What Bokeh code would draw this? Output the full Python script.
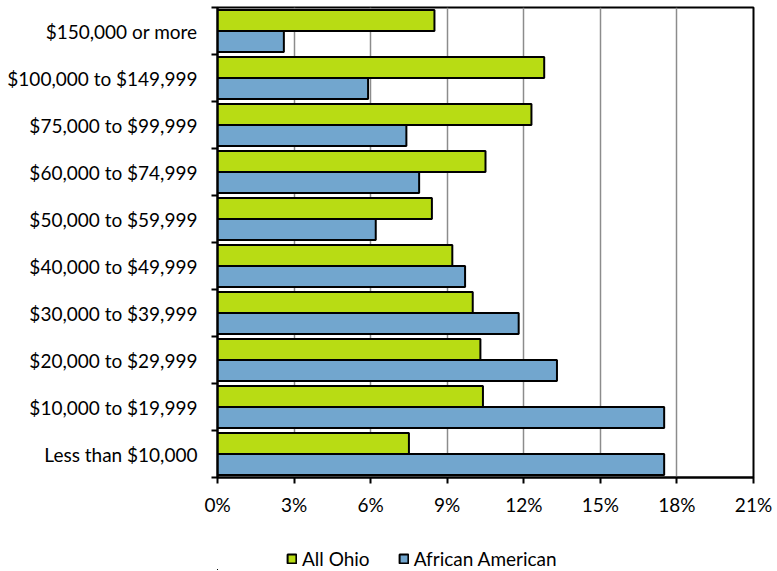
from bokeh.plotting import figure
from bokeh.layouts import column
from bokeh.models import ColumnDataSource, FixedTicker, Legend, LegendItem, Range1d
from bokeh.embed import file_html
from bokeh.resources import INLINE

categories = ["Less than $10,000", "$10,000 to $19,999", "$20,000 to $29,999",
              "$30,000 to $39,999", "$40,000 to $49,999", "$50,000 to $59,999",
              "$60,000 to $74,999", "$75,000 to $99,999", "$100,000 to $149,999",
              "$150,000 or more"]
all_ohio = [7.5, 10.4, 10.3, 10.0, 9.2, 8.4, 10.5, 12.3, 12.8, 8.5]
african_american = [17.5, 17.5, 13.3, 11.8, 9.7, 6.2, 7.9, 7.4, 5.9, 2.6]
series_names = ["All Ohio", "African American"]
x_ticks = [0, 3, 6, 9, 12, 15, 18, 21]

GREEN = "#B8DC14"
BLUE = "#72A6CE"
FONT = "Lato"
FS = "19px"

idx = list(range(len(categories)))
bar_h = 0.447
off = bar_h / 2

src_g = ColumnDataSource(dict(y=[i + off for i in idx], v=all_ohio))
src_b = ColumnDataSource(dict(y=[i - off for i in idx], v=african_american))

W = 776
p = figure(width=W, height=525, output_backend="svg", toolbar_location=None,
           x_range=Range1d(0, 21), y_range=Range1d(-0.5, len(categories) - 0.5),
           min_border_left=217, min_border_right=W - 753, min_border_top=7,
           min_border_bottom=525 - 477)

p.hbar(y="y", right="v", left=0, height=bar_h, source=src_g,
       fill_color=GREEN, line_color="black", line_width=2)
p.hbar(y="y", right="v", left=0, height=bar_h, source=src_b,
       fill_color=BLUE, line_color="black", line_width=2)

# x axis
p.xaxis.ticker = FixedTicker(ticks=x_ticks)
p.xaxis.major_label_overrides = {t: f"{t}%" for t in x_ticks}
p.xaxis.axis_line_color = "black"
p.xaxis.axis_line_width = 2
p.xaxis.major_tick_line_color = "black"
p.xaxis.major_tick_line_width = 2
p.xaxis.major_tick_out = 6
p.xaxis.major_tick_in = 0
p.xaxis.minor_tick_line_color = None
p.xaxis.major_label_standoff = 9
p.xaxis.major_label_text_font = FONT
p.xaxis.major_label_text_font_size = FS
p.xaxis.major_label_text_color = "black"

# y axis
p.yaxis.ticker = FixedTicker(ticks=idx, minor_ticks=[i - 0.5 for i in range(len(categories) + 1)])
p.yaxis.major_label_overrides = {i: c for i, c in zip(idx, categories)}
p.yaxis.axis_line_color = "black"
p.yaxis.axis_line_width = 2
p.yaxis.major_tick_line_color = None
p.yaxis.minor_tick_line_color = "black"
p.yaxis.minor_tick_line_width = 2
p.yaxis.minor_tick_out = 6
p.yaxis.minor_tick_in = 0
p.yaxis.major_label_standoff = 14
p.yaxis.major_label_text_font = FONT
p.yaxis.major_label_text_font_size = FS
p.yaxis.major_label_text_color = "black"

p.xgrid.ticker = FixedTicker(ticks=x_ticks)
p.xgrid.grid_line_color = "#8C8C8C"
p.xgrid.grid_line_width = 1.5
p.ygrid.grid_line_color = None

p.outline_line_color = "black"
p.outline_line_width = 2
p.background_fill_color = "white"
p.border_fill_color = "white"

# legend strip below the chart (its frame aligns with the chart frame at x=217);
# its ranges lie far from the data so only the legend shows
LH = 45
pl = figure(width=W, height=LH, output_backend="svg", toolbar_location=None,
            x_range=Range1d(100, 200), y_range=Range1d(100, 200),
            x_axis_location=None, y_axis_location=None,
            min_border_left=0, min_border_right=0, min_border_top=0, min_border_bottom=0)
pl.outline_line_color = None
pl.xgrid.grid_line_color = None
pl.ygrid.grid_line_color = None
pl.background_fill_color = "white"
pl.border_fill_color = "white"
lg = pl.hbar(y="y", right="v", left=0, height=bar_h, source=src_g,
             fill_color=GREEN, line_color="black", line_width=2)
lb = pl.hbar(y="y", right="v", left=0, height=bar_h, source=src_b,
             fill_color=BLUE, line_color="black", line_width=2)

legend = Legend(items=[LegendItem(label=series_names[0], renderers=[lg]),
                       LegendItem(label=series_names[1], renderers=[lb])],
                orientation="horizontal", location=(286 - 217, 0),
                label_text_font=FONT, label_text_font_size=FS, label_text_color="black",
                glyph_width=11, glyph_height=11, label_standoff=5, spacing=28,
                border_line_color=None, background_fill_alpha=0,
                margin=0, padding=0, label_height=14)
pl.add_layout(legend, "center")

layout = column(p, pl, spacing=0)
open("out.html", "w").write(file_html(layout, INLINE))
